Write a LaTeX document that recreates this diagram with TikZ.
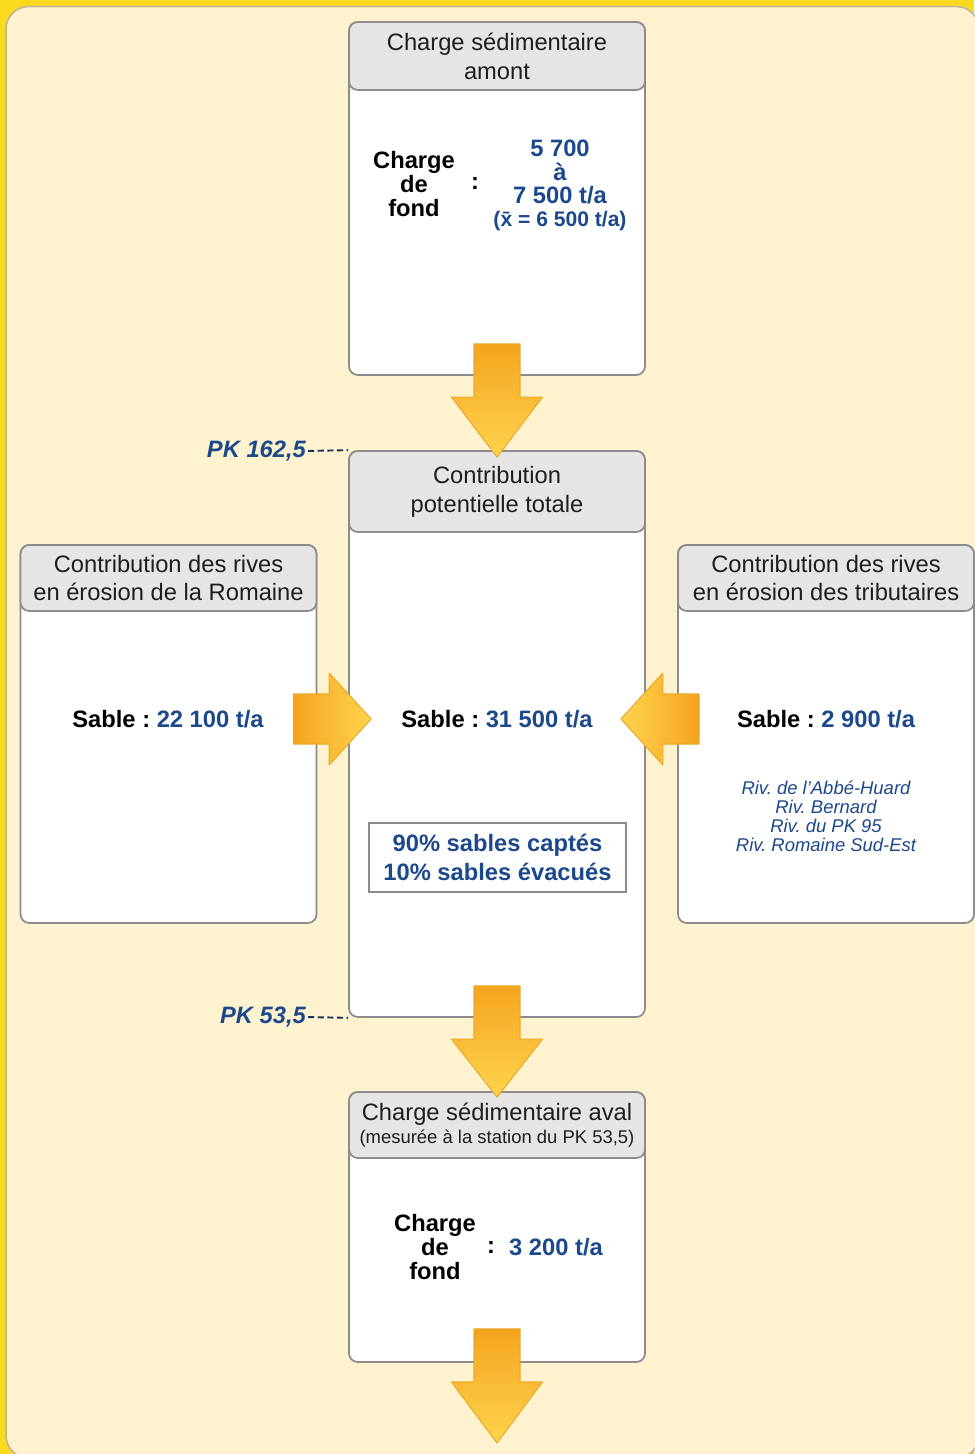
\documentclass[tikz,border=0pt]{standalone}
\usepackage{fontspec}
\setmainfont{Liberation Sans}
\usepackage{tikz}
\usetikzlibrary{calc, positioning}
\frenchspacing
\definecolor{myyellow}{RGB}{250,218,30}
\definecolor{mycream}{RGB}{255,243,207}
\definecolor{myframe}{RGB}{196,184,150}
\definecolor{mygray}{RGB}{140,140,140}
\definecolor{hdrgray}{RGB}{229,229,229}
\definecolor{myblue}{RGB}{28,72,140}
\definecolor{mydark}{RGB}{30,30,30}
\definecolor{myorange}{RGB}{245,164,30}
\definecolor{mylight}{RGB}{255,212,78}
\definecolor{myedge}{RGB}{236,170,40}
\tikzset{
  box/.style={rectangle, draw=mygray, fill=white, minimum width=5.92cm,
    rounded corners=5pt, line width=1pt},
  header/.style={rectangle, draw=mygray, fill=hdrgray, minimum width=5.92cm,
    rounded corners=5pt, line width=1pt, align=center, text=mydark,
    font=\fontsize{13.5}{16.4}\selectfont},
  value/.style={font=\fontsize{13.5}{13.6}\selectfont\bfseries, align=center, text=black},
  pklabel/.style={font=\fontsize{13.5}{16}\selectfont\bfseries\itshape,
    text=myblue, anchor=east, inner sep=1pt},
  pkline/.style={dash pattern=on 3.5pt off 2pt, line width=1.1pt, color=myblue!70!black},
  bigarrow/.style={draw=myedge, line width=0.6pt, line join=round}
}

\begin{document}
\begin{tikzpicture}
  \useasboundingbox (0,0) rectangle (19.48,-29.08);
  % background frame
  \fill[myyellow] (0,0) rectangle (19.48,-29.08);
  \draw[draw=myframe, fill=mycream, line width=1pt, rounded corners=0.45cm]
    (0.12,-0.13) rectangle (19.58,-29.16);

  % boxes
  \node[box, minimum height=7.06cm] (amont) at (9.94,-3.97) {};
  \node[box, minimum height=11.32cm] (total) at (9.94,-14.68) {};
  \node[box, minimum height=7.56cm] (romaine) at (3.37,-14.68) {};
  \node[box, minimum height=7.56cm] (tribut) at (16.52,-14.68) {};
  \node[box, minimum height=5.4cm] (aval) at (9.94,-24.54) {};

  % headers
  \node[header, minimum height=1.36cm, anchor=north] (amonthdr) at (amont.north)
    {Charge sédimentaire\\amont};
  \node[header, minimum height=1.62cm, anchor=north] (totalhdr) at (total.north)
    {Contribution\\potentielle totale};
  \node[header, minimum height=1.32cm, anchor=north] (romainehdr) at (romaine.north)
    {Contribution des rives\\en érosion de la Romaine};
  \node[header, minimum height=1.32cm, anchor=north] (tributhdr) at (tribut.north)
    {Contribution des rives\\en érosion des tributaires};
  \node[header, minimum height=1.32cm, anchor=north] (avalhdr) at (aval.north)
    {Charge sédimentaire aval\\[-3pt]{\fontsize{10.5}{12}\selectfont(mesurée à la station du PK 53,5)}};

  % upstream load
  \node[value] (fond1) at (8.28,-3.68) {Charge\\de\\fond};
  \node[value] (colon1) at (9.5,-3.68) {:};
  \node[value, text=myblue] (range1) at (11.2,-3.7)
    {5 700\\à\\7 500 t/a\\[-1pt]{\fontsize{12}{12.5}\selectfont(\=x = 6 500 t/a)}};

  % sand inputs
  \node[value] (sable0) at (9.94,-14.38) {Sable : \textcolor{myblue}{31 500 t/a}};
  \node[value] (sable1) at (3.36,-14.38) {Sable : \textcolor{myblue}{22 100 t/a}};
  \node[value] (sable2) at (16.52,-14.38) {Sable : \textcolor{myblue}{2 900 t/a}};
  \node[font=\fontsize{10.5}{10.8}\selectfont\itshape, text=myblue, align=center] (rivs)
    at (16.52,-16.33) {Riv. de l'Abbé-Huard\\Riv. Bernard\\Riv. du PK 95\\Riv. Romaine Sud-Est};
  \node[draw=mygray, fill=white, line width=1.3pt, minimum width=5.14cm, minimum height=1.38cm,
    font=\fontsize{13.5}{16.4}\selectfont\bfseries, text=myblue, align=center] (capte)
    at (9.95,-17.15) {90\% sables captés\\10\% sables évacués};

  % downstream load
  \node[value] (fond2) at (8.7,-24.94) {Charge\\de\\fond};
  \node[value] (colon2) at (9.82,-24.94) {:};
  \node[value, text=myblue, anchor=west] (val2) at (10.06,-24.94) {3 200 t/a};

  % PK marks
  \node[pklabel] (pk1) at (6.16,-9.02) {PK 162,5};
  \node[pklabel] (pk2) at (6.16,-20.34) {PK 53,5};
  \draw[pkline] (pk1.east) -- (total.north west);
  \draw[pkline] (pk2.east) -- (total.south west);

  % flow arrows
  \coordinate (sortie) at (9.94,-28.86);
  \draw[bigarrow, top color=myorange, bottom color=mylight]
    ($(amont.south)+(-0.46,0.64)$) -- ($(amont.south)+(0.46,0.64)$)
    |- ($(total.north)+(0.91,1.06)$) -- ($(total.north)+(0,-0.14)$)
    -- ($(total.north)+(-0.91,1.06)$) -| ($(amont.south)+(-0.46,0.64)$) -- cycle;
  \draw[bigarrow, top color=myorange, bottom color=mylight]
    ($(total.south)+(-0.46,0.64)$) -- ($(total.south)+(0.46,0.64)$)
    |- ($(aval.north)+(0.91,1.04)$) -- ($(aval.north)+(0,-0.12)$)
    -- ($(aval.north)+(-0.91,1.04)$) -| ($(total.south)+(-0.46,0.64)$) -- cycle;
  \draw[bigarrow, top color=myorange, bottom color=mylight]
    ($(aval.south)+(-0.46,0.68)$) -- ($(aval.south)+(0.46,0.68)$)
    |- ($(sortie)+(0.91,1.22)$) -- (sortie)
    -- ($(sortie)+(-0.91,1.22)$) -| ($(aval.south)+(-0.46,0.68)$) -- cycle;
  \draw[bigarrow, left color=myorange, right color=mylight]
    ($(romaine.east)+(-0.48,0.80)$) -- ($(romaine.east)+(-0.48,-0.20)$)
    -| ($(total.west)+(-0.38,-0.62)$) -- ($(total.west)+(0.46,0.30)$)
    -- ($(total.west)+(-0.38,1.22)$) |- ($(romaine.east)+(-0.48,0.80)$) -- cycle;
  \draw[bigarrow, left color=mylight, right color=myorange]
    ($(tribut.west)+(0.44,0.80)$) -- ($(tribut.west)+(0.44,-0.20)$)
    -| ($(total.east)+(0.34,-0.62)$) -- ($(total.east)+(-0.5,0.30)$)
    -- ($(total.east)+(0.34,1.22)$) |- ($(tribut.west)+(0.44,0.80)$) -- cycle;
\end{tikzpicture}
\end{document}
